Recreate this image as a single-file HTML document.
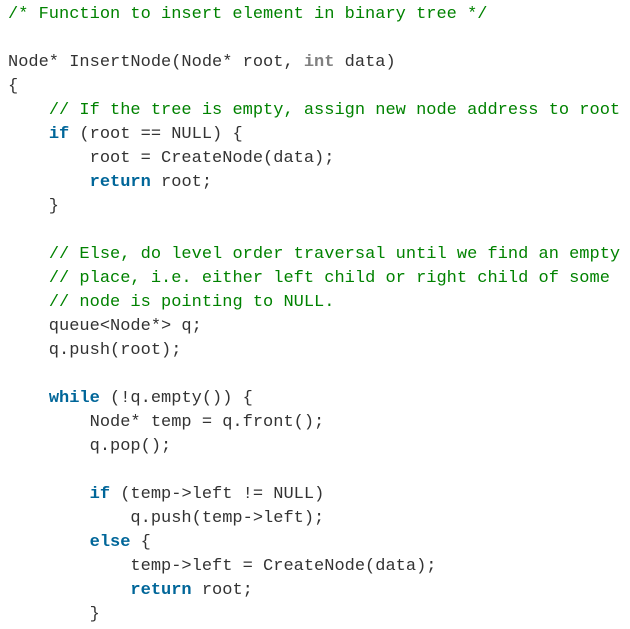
<!DOCTYPE html>
<html><head><style>
html,body{margin:0;padding:0;background:#fff;width:630px;height:629px;overflow:hidden}
pre{margin:0;padding:3px 0 0 8px;font-family:"Liberation Mono",monospace;font-size:17px;line-height:24px;color:#333}
.c{color:#008200}.k{color:#006699;font-weight:bold}.t{color:#808080;font-weight:bold}
</style></head><body><pre><span class="c">/* Function to insert element in binary tree */</span>

Node* InsertNode(Node* root, <span class="t">int</span> data)
{
    <span class="c">// If the tree is empty, assign new node address to root</span>
    <span class="k">if</span> (root == NULL) {
        root = CreateNode(data);
        <span class="k">return</span> root;
    }

    <span class="c">// Else, do level order traversal until we find an empty</span>
    <span class="c">// place, i.e. either left child or right child of some</span>
    <span class="c">// node is pointing to NULL.</span>
    queue&lt;Node*&gt; q;
    q.push(root);

    <span class="k">while</span> (!q.empty()) {
        Node* temp = q.front();
        q.pop();

        <span class="k">if</span> (temp-&gt;left != NULL)
            q.push(temp-&gt;left);
        <span class="k">else</span> {
            temp-&gt;left = CreateNode(data);
            <span class="k">return</span> root;
        }
</pre></body></html>
